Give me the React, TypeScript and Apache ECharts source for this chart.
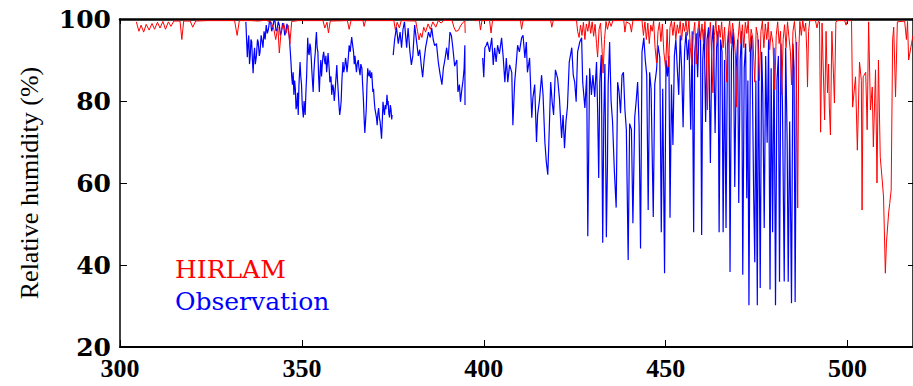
import React, { useEffect, useRef } from "react";
import * as echarts from "echarts";

const xTicks = [300, 350, 400, 450, 500];
const yTicks = [20, 40, 60, 80, 100];
const legendNames = ["HIRLAM", "Observation"];
const yAxisTitle = "Relative humidity (%)";

const hirlamA: [number, number][] = [
  [304.5,99.3],[305.2,97],[305.8,98.5],[306.5,96.8],[307.2,98.7],[308,97.3],[308.8,98.9],[309.5,97.5],[310.3,99.2],[311,97.8],[311.8,99.4],[312.5,97.5],[313.3,99.3],[314,98.2],[314.8,99.5],[316.5,99.5],[317,95],[317.5,99.5],[319.3,99.5],[320,98],[320.8,99.5],[324,99.6],[328,99.6],[331.5,99.6],[332.2,96],[332.8,99.6],[336,99.6],[338,99.5],[340,99.7],[341.5,99.3],[342.3,97.5],[342.8,95],[343.4,98],[343.8,91.7],[344.3,97],[345,99],[345.6,96.5],[346.2,98.5],[346.7,94],[347.2,99.4],[349,99.6],[353,99.6],[355.8,99.6],[356.3,97.8],[356.9,99.2],[357.3,96.6],[357.8,99.5],[362.5,99.6],[363,97.5],[363.5,99.6],[366.8,99.6],[367.1,98.2],[367.5,99.6],[375.3,99.6],[375.7,97.3],[376.2,99.2],[376.8,97.8],[377.3,99.6],[381.3,99.5],[381.8,97],[382.2,94.9],[382.6,96.5],[383,95.5],[383.5,98],[384,96.8],[384.7,98.8],[385.3,97.5],[386,99.3],[386.8,98],[387.5,99.6],[388.3,99],[389,99.7],[391.3,99.6],[391.8,98],[392.3,97],[393,97.2],[393.6,98.3],[394.3,99.2],[394.8,99.5],[394.9,96.6]
];

const hirlamB: [number, number][] = [
  [397.5,99.6],[398.8,99.6],[399.1,97.3],[399.5,99.6],[401.6,99.6],[402,96.6],[402.4,99.6],[410.1,99.6],[410.4,97.5],[410.8,99.6],[418.4,99.6],[418.7,98],[419.1,99.6],[425.5,99.6],
  [425.8,97],[426.2,95.5],[426.6,98.5],[427,96],[427.4,99.2],[427.8,95],[428.2,98.8],[428.6,97],[429,99.5],[429.4,96.5],[429.8,99.3],[430.2,95.8],[430.6,98.7],[431,94],[431.3,90.7],[431.7,97.5],[432.1,99],[432.5,93],[432.8,86.8],[433.2,95],[433.6,99.4],[434,97.5],[434.5,99.5],[435,98.2],[435.5,99.6],[438.5,99.6],[438.8,96.8],[439.2,99.3],[440.2,98.8],[440.6,96.8],[441,99.6],[443.5,99.6],
  [443.9,96],[444.3,99.3],[444.7,95],[445.1,99],[445.5,94],[445.9,98.5],[446.3,97],[446.7,99.5],[447.1,93],[447.5,89.3],[447.9,97],[448.3,99.2],[448.7,94.5],[449.1,98.8],[449.5,92],[450,88],[450.4,97.5],[450.8,88.3],[451.2,98],[451.6,99.5],[452,96],[452.4,99.3],[452.8,95],[453.2,98.6],[453.6,96.5],[454,99.4],[454.4,94.8],[454.8,99],[455.2,97],[455.6,99.6],[456,96],[456.4,99.5],[456.8,93],[457.2,88.8],[457.6,96],[458,99.2],[458.4,89],[458.8,97],[459.2,99.5],[459.6,95],[460,98.8],[460.4,94],[460.8,99.4],[461.2,92],[461.5,77.8],[461.9,95],[462.3,99.2],[462.7,90],[463,82],[463.4,96],[463.8,99.5],[464.2,94],[464.6,98.5],[465,95.5],[465.4,99.3],[465.8,93],[466.2,98],[466.6,90],[466.8,84.6],[467.2,96.5],[467.6,99.6],[468,94],[468.4,99],[468.8,96],[469.2,91],[469.5,78.5],[469.9,95],[470.3,99.4],[470.7,94],[471.1,98.6],[471.5,93],[471.9,99.2],[472.3,96.5],[472.7,99.5],[473.1,92],[473.5,97.5],[474,95],[474.5,84.6],[474.9,98],[475.3,96],[475.8,85],[476.2,97],[476.6,99.5],[477,93],[477.4,98.8],[477.8,95],[478.2,99.3],[478.6,92.5],[479,97],[479.5,94],[480,82.7],[480.4,96],[480.8,99.3],[481.2,94],[481.6,97],[481.9,81.5],[482.3,95],[482.7,98.6],[483.1,93],[483.5,99.3],[483.9,95.5],[484.3,92],[484.6,83.9],[485,97],[485.4,99.4],[485.8,95],[486.1,75],[486.3,53.9],[486.6,92],[486.9,99.4],[487.3,96],[487.7,99.6],[488.1,97],[488.5,99],[488.8,92],[489,83.4],[489.3,97],[489.6,99.6],
  [491.2,99.6],[491.6,97.8],[492,99.5],[492.3,99.3],[492.6,72.4],[493,99],[493.7,75.4],[494.1,97],[494.5,82],[494.8,89],[495,78.5],[495.3,71.7],[495.7,97],[496,90],[496.4,79.5],[496.8,99.3],[497.3,99.6],[499.2,99.6],[499.6,98.5],[500,99.6],[501.1,99.6],[501.4,78.5],[502.2,85.9],[502.7,68],[503.3,89.5],[503.8,85],[504,53.4],[504.3,85.9],[505,87],[505.4,73],[505.8,99.3],[506.3,77.8],[506.8,83.4],[507.1,68.8],[507.7,87.6],[508.1,60],[508.5,90],[509,66.3],[509.6,60],[509.9,56.6],[510.4,38],[510.7,45.4],[511.3,52.7],[511.6,55],[512,58.3],[512.4,94.9],[512.7,98],[513.2,81],[513.7,99.3],[515.7,99.5],[516.2,95],[516.5,99.4],[516.8,90],[517.6,94],[518,96]
];

const obsA: [number, number][] = [
  [334.6,99.3],[335,90.7],[335.2,94],[335.4,96],[335.6,89],[335.8,91],[336,95],[336.2,94.5],[336.4,90],[336.6,86.8],[336.8,91],[337,93],[337.2,89],[337.5,91],[337.8,95],[338,94.4],[338.3,91],[338.5,92],[338.8,96],[339,95],[339.3,93],[339.6,97],[339.9,95],[340.2,98.5],[340.5,96.5],[340.8,97.5],[341.1,99.5],[341.4,99.3],[341.7,97],[342,98],[342.3,99.6],[342.6,99.5],[342.9,97],[343.2,97.5],[343.5,99.4],[343.8,98.5],[344.1,96],[344.4,97],[344.7,99],[345,98.3],[345.3,96],[345.6,96.8],[345.9,98.8],[346.2,97.8],[346.5,96],[346.7,93.6],[347,89.5],[347.2,86],[347.4,84],[347.6,87],[347.8,81.5],[348,85],[348.2,83],[348.4,78],[348.6,79],[348.8,82],[349,76.6],[349.2,84],[349.5,89.5],[349.7,86],[349.9,84],[350.1,79],[350.4,76],[350.6,80],[350.9,76.6],[351.1,82],[351.3,86],[351.5,92],[351.6,95.4],[351.8,92],[352,91.2],[352.2,94],[352.4,93],[352.6,90],[352.7,88],[352.9,85],[353.1,82.2],[353.3,87],[353.5,90],[353.7,92],[353.8,94.4],[354,96.8],[354.2,93],[354.4,92],[354.6,86],[354.8,82.2],[355,87],[355.2,90],[355.4,86],[355.6,88.8],[355.8,91],[356,92],[356.2,90],[356.4,89],[356.6,91],[356.8,87],[357,89],[357.2,91.7],[357.5,88],[357.7,84.6],[358,86],[358.2,81.5],[358.5,84],[358.7,83],[358.9,80],[359.1,82],[359.4,86],[359.6,88.8],[359.8,85],[360,82.2],[360.2,79],[360.4,76.6],[360.6,78],[360.8,80],[361,85],[361.3,89.5],[361.5,87],[361.8,88.5],[362,90.5],[362.2,89.2],[362.4,87],[362.6,88.8],[362.8,91],[363,93.6],[363.3,92],[363.5,94],[363.7,95.6],[363.9,94],[364.2,92],[364.4,89],[364.6,91],[364.8,89],[365,87],[365.2,89],[365.5,90],[365.7,88],[366,86.3],[366.2,89],[366.5,88],[366.7,84],[366.9,80.7],[367.1,76],[367.3,72.2],[367.5,75],[367.7,78],[367.9,84],[368.1,88],[368.3,86.5],[368.5,86],[368.7,87.5],[368.9,85.6],[369.1,86],[369.2,87],[369.4,84],[369.5,82.2],[369.7,83],[369.9,80],[370.1,78],[370.3,77],[370.5,76],[370.7,74.1],[370.9,77],[371.1,78.3],[371.3,76],[371.5,75],[371.7,73],[371.9,70.8],[372.1,75],[372.3,79.8],[372.5,78],[372.7,76.6],[372.9,79],[373.1,78],[373.3,80],[373.4,81.5],[373.6,79],[373.7,80],[373.9,77],[374.1,76],[374.3,79],[374.5,78],[374.7,75.5],[374.8,76.6]
];

const obsB: [number, number][] = [
  [375.1,91.2],[375.5,95],[376,98],[376.5,94],[377,96.8],[377.4,93],[377.8,97.5],[378.2,99.3],[378.8,93],[379.2,97.8],[379.7,92],[380.1,88.8],[380.5,91],[381,98.5],[381.6,94],[382,91],[382.4,92.5],[382.8,88.8],[383.2,85.8],[383.6,90],[384,93],[384.3,94.4],[384.8,96.8],[385.3,95.5],[385.7,97.8],[386.1,95],[386.5,93.5],[387,94],[387.5,89.5],[388,86.5],[388.5,84],[388.9,88],[389.3,90],[389.8,93],[390.2,90],[390.7,96.8],[391.1,96],[391.5,93],[392,88.5],[392.6,90],[392.9,82.2],[393.3,84],[393.6,79.8],[394,83],[394.3,85],[394.6,88],[394.8,93.6],[394.85,79]
];

const obsC: [number, number][] = [
  [399.7,90.5],[400,85.8],[400.3,93],[400.7,93.6],[401,94.4],[401.6,92],[402.2,95.4],[402.6,88.8],[403,93],[403.4,89.5],[403.8,93.6],[404.3,91.5],[404.9,95.4],[405.3,91.2],[405.8,84.6],[406.2,90.5],[406.6,84.6],[407.1,88.8],[407.7,87],[408,74.1],[408.5,84.6],[408.9,88.8],[409.3,93.6],[409.8,92],[410.4,95.4],[410.8,96],[411.3,90.5],[411.7,94.4],[412,87],[412.6,90.5],[413.2,75.9],[413.5,80.7],[414,84],[414.5,70],[414.8,76.6],[415.3,80],[415.9,86.3],[416.3,81.5],[416.8,70],[417.2,65.1],[417.6,62],[417.9,70],[418.4,84.6],[418.8,79.8],[419.2,76.6],[419.7,87.6],[420.3,85.6],[420.8,80.7],[421.4,71],[421.8,76.6],[422.2,68.5],[422.6,75],[423,78.5],[423.5,89.5],[424.2,93],[424.6,86.3],[425,84.6],[425.4,79.8],[425.8,92],[426.4,94.4],[426.9,95.4],[427.2,84.6],[427.8,78.3],[428.3,86.3],[428.6,47],[429.1,88],[429.6,81.5],[430,86.3],[430.5,81],[431,89.5],[431.3,78],[431.6,61.2],[431.9,84.6],[432.3,91.2],[432.7,45.4],[433,76],[433.3,89],[433.7,46.8],[434,64],[434.2,84],[434.6,94.4],[435,80],[435.4,75],[435.9,63],[436.4,54],[436.8,84.6],[437.2,82.2],[437.6,77],[438,86.3],[438.4,87],[438.8,78],[439.2,73],[439.7,41.2],[440.1,74.5],[440.6,73],[441,50.2],[441.5,76],[441.9,80],[442.3,84.6],[442.7,74],[443.1,44],[443.5,92],[444,95.4],[444.4,90],[444.8,86.3],[445.2,53.4],[445.6,87],[446,83],[446.6,51.7],[447,84],[447.5,87.6],[447.9,93.6],[448.4,90.5],[448.8,48],[449.2,83],[449.7,38],[450.1,90],[450.5,86],[450.9,91],[451.2,51.5],[451.6,84],[452,69.3],[452.4,91],[452.8,95],[453.2,88],[453.6,81.5],[454,96],[454.4,88],[454.8,73.6],[455.2,92],[455.6,96.8],[456,90],[456.4,95],[456.9,73],[457.3,97],[457.7,48],[458,92],[458.4,96.5],[458.8,85.8],[459.2,98],[459.6,95],[459.9,47.3],[460.2,90],[460.6,97.5],[461,74.9],[461.4,95],[461.8,98],[462.3,64.9],[462.7,94],[463.1,98.5],[463.6,72.2],[464,93],[464.4,97],[464.7,48],[465.1,95],[465.5,92],[465.8,48],[466.2,90],[466.6,49],[467,94],[467.4,97],[467.7,38.3],[468.1,92],[468.6,97.5],[469,59],[469.4,88],[469.8,95],[470.1,55.1],[470.5,90],[470.9,97],[471.2,37.6],[471.6,88],[472,94],[472.3,56.3],[472.6,85],[472.9,30.2],[473.3,92],[473.7,96],[474.2,57],[474.5,40.7],[474.8,85],[475.2,30.2],[475.5,95],[476,34.4],[476.4,92],[476.7,82],[477.1,49],[477.5,91],[477.9,69.8],[478.3,95],[478.7,34],[479,88],[479.4,48],[479.8,93],[480.2,30.2],[480.6,85],[481,91],[481.3,35.9],[481.7,94],[482.1,80],[482.6,36],[483,93],[483.4,70.5],[483.7,35.9],[484.1,75],[484.6,30.7],[485,94],[485.3,88],[485.6,31],[486,94.4]
];

const serif = "'Liberation Serif', serif";
const wideSerif = "'DejaVu Serif', serif";

export default function App() {
  const ref = useRef<HTMLDivElement>(null);
  useEffect(() => {
    document.body.style.margin = "0";
    if (!ref.current) return;
    const chart = echarts.init(ref.current, undefined, { renderer: "svg" });
    const hirlamData: any[] = [...hirlamA, [395.5, "-"], ...hirlamB];
    const obsData: any[] = [...obsA, [374.95, "-"], ...obsB, [396, "-"], ...obsC];
    const axisLineStyle = { color: "#000", width: 1.5 };
    chart.setOption({
      animation: false,
      backgroundColor: "#fff",
      title: [
        {
          text: legendNames[0],
          left: 175,
          top: 257,
          padding: 0,
          textStyle: { color: "#ff0000", fontFamily: wideSerif, fontSize: 25, fontWeight: "normal" },
        },
        {
          text: legendNames[1],
          left: 175,
          top: 289,
          padding: 0,
          textStyle: { color: "#0000ff", fontFamily: wideSerif, fontSize: 25, fontWeight: "normal" },
        },
      ],
      grid: { left: 120, right: 0, top: 19, bottom: 39, containLabel: false },
      xAxis: [
        {
          type: "value",
          position: "bottom",
          min: 300,
          max: 518,
          interval: 50,
          axisLine: { show: true, lineStyle: { color: "#000", width: 2 } },
          axisTick: { show: true, inside: true, length: 7, lineStyle: { color: "#000", width: 1 } },
          axisLabel: {
            show: true,
            margin: 8,
            color: "#000",
            fontFamily: serif,
            fontWeight: "bold",
            fontSize: 26,
            customValues: xTicks,
          },
          splitLine: { show: false },
        },
        {
          type: "value",
          position: "top",
          min: 300,
          max: 518,
          interval: 50,
          axisLine: { show: true, onZero: false, lineStyle: { color: "#000", width: 2.5 } },
          axisTick: { show: true, inside: true, length: 5, lineStyle: { color: "#000", width: 1 } },
          axisLabel: { show: false },
          splitLine: { show: false },
        },
      ],
      yAxis: [
        {
          type: "value",
          position: "left",
          min: 20,
          max: 100,
          interval: 20,
          name: yAxisTitle,
          nameLocation: "middle",
          nameRotate: 90,
          nameGap: 78,
          nameTextStyle: { color: "#000", fontFamily: serif, fontSize: 26 },
          axisLine: { show: true, lineStyle: axisLineStyle },
          axisTick: { show: true, inside: true, length: 7, lineStyle: { color: "#000", width: 1 } },
          axisLabel: {
            show: true,
            margin: 9,
            color: "#000",
            fontFamily: wideSerif,
            fontWeight: "bold",
            fontSize: 25,
            customValues: yTicks,
          },
          splitLine: { show: false },
        },
        {
          type: "value",
          position: "right",
          min: 20,
          max: 100,
          interval: 20,
          axisLine: { show: true, lineStyle: axisLineStyle },
          axisTick: { show: true, inside: true, length: 5, lineStyle: { color: "#000", width: 1 } },
          axisLabel: { show: false },
          splitLine: { show: false },
        },
      ],
      series: [
        {
          name: legendNames[1],
          type: "line",
          data: obsData,
          showSymbol: false,
          symbol: "none",
          connectNulls: false,
          lineStyle: { color: "#0000ff", width: 1.2 },
          z: 2,
        },
        {
          name: legendNames[0],
          type: "line",
          data: hirlamData,
          showSymbol: false,
          symbol: "none",
          connectNulls: false,
          lineStyle: { color: "#ff0000", width: 1 },
          z: 3,
        },
      ],
    });
    return () => chart.dispose();
  }, []);
  return <div ref={ref} style={{ width: 913, height: 386 }} />;
}
